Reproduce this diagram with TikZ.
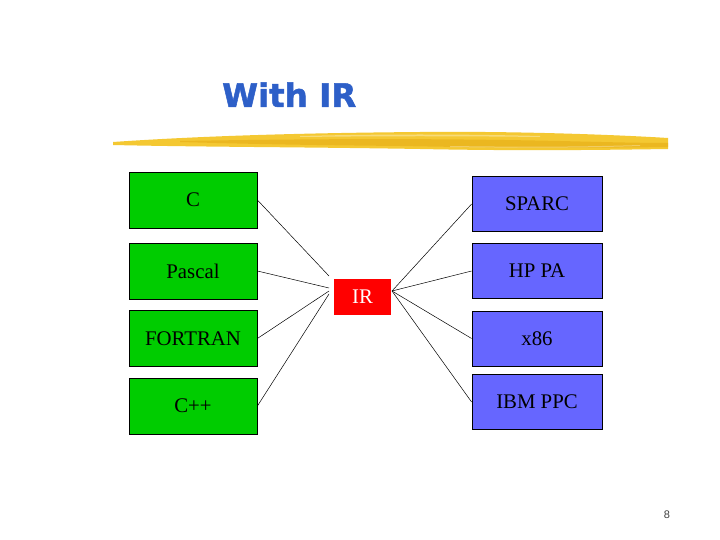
\documentclass[tikz,border=0pt]{standalone}
\usepackage{fontspec}
\setmainfont{Liberation Serif}
\newfontfamily\titlefont[FakeBold=1.5]{DejaVu Sans}
\newfontfamily\numfont{Liberation Sans}
\definecolor{boxgreen}{RGB}{0,204,0}
\definecolor{boxblue}{RGB}{102,102,255}
\definecolor{irred}{RGB}{255,0,0}
\definecolor{titleblue}{RGB}{45,95,200}
\definecolor{brush}{RGB}{244,200,50}
\definecolor{brushdark}{RGB}{230,172,20}
\begin{document}
\begin{tikzpicture}[x=1pt,y=-1pt,
  srcbox/.style={draw=black,line width=0.8pt,fill=boxgreen,minimum width=128pt,minimum height=56pt,inner sep=0pt,font=\fontsize{20.8}{22}\selectfont},
  tgtbox/.style={draw=black,line width=0.8pt,fill=boxblue,minimum width=130pt,minimum height=55pt,inner sep=0pt,font=\fontsize{20.8}{22}\selectfont},
  irbox/.style={fill=irred,minimum width=57pt,minimum height=36pt,inner sep=0pt,text=white,font=\fontsize{20.8}{22}\selectfont},
  link/.style={draw=black,line width=0.5pt}]
\useasboundingbox (0,0) rectangle (720,540);
\fill[white] (0,0) rectangle (720,540);
% title
\node[anchor=base west,inner sep=0pt,text=titleblue,font=\titlefont\bfseries\fontsize{32.5}{36}\selectfont] (title) at (222,107) {With IR};
% brush stroke
\fill[brush] (113,142) .. controls (200,136) and (300,133) .. (420,132) .. controls (520,131) and (620,135) .. (668,138) -- (668,149) .. controls (600,150) and (520,151) .. (420,149) .. controls (300,147) and (200,147) .. (113,145) -- cycle;
\fill[brushdark,opacity=0.6] (180,141) .. controls (300,139) and (420,138) .. (560,141) .. controls (600,142) and (640,143) .. (668,143) -- (668,147) .. controls (600,148) and (500,148) .. (400,146) .. controls (300,145) and (250,144) .. (180,142) -- cycle;
\fill[white,opacity=0.35] (300,136) .. controls (380,134) and (460,134) .. (540,136) -- (540,137) .. controls (460,136) and (380,136) .. (300,137) -- cycle;
\fill[white,opacity=0.3] (450,146) .. controls (520,147) and (580,147) .. (640,145) -- (640,146) .. controls (580,148) and (520,148) .. (450,147) -- cycle;
% source boxes
\node[srcbox] (c) at (193,200) {C};
\node[srcbox] (pascal) at (193,271) {Pascal};
\node[srcbox] (fortran) at (193,338.5) {FORTRAN};
\node[srcbox] (cpp) at (193,406) {C++};
% target boxes
\node[tgtbox] (sparc) at (537,204) {SPARC};
\node[tgtbox] (hppa) at (537,271) {HP PA};
\node[tgtbox] (x86) at (537,338.5) {x86};
\node[tgtbox] (ibm) at (537,402) {IBM PPC};
% IR
\node[irbox] (ir) at (362.5,297) {IR};
% connector ends
\coordinate (l1) at (329,276);
\coordinate (l2) at (329,288);
\coordinate (l3) at (329,291);
\coordinate (l4) at (329,294);
\coordinate (r0) at (392,291);
\draw[link] (c.east) -- (l1);
\draw[link] (pascal.east) -- (l2);
\draw[link] (fortran.east) -- (l3);
\draw[link] (cpp.east) -- (l4);
\draw[link] (r0) -- (sparc.west);
\draw[link] (r0) -- (hppa.west);
\draw[link] (r0) -- (x86.west);
\draw[link] (r0) -- (ibm.west);
% page number
\node[inner sep=0pt,text=black!75,font=\numfont\fontsize{11}{12}\selectfont] (page) at (667,515) {8};
\end{tikzpicture}
\end{document}
